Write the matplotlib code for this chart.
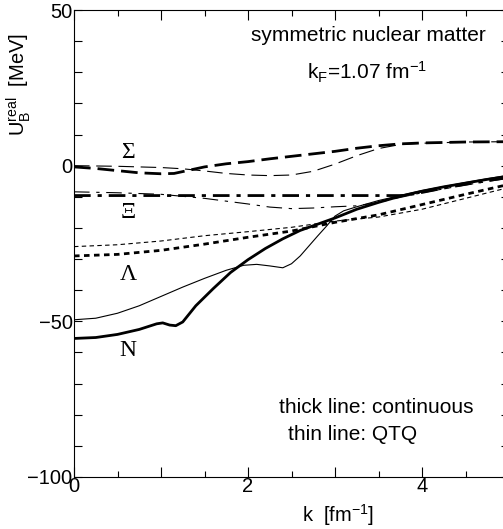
import matplotlib
matplotlib.use('Agg')
from matplotlib import pyplot as plt
from matplotlib.ticker import FixedLocator, MultipleLocator, FuncFormatter

plt.rcParams['font.family'] = ['Liberation Sans', 'DejaVu Sans']
plt.rcParams['mathtext.fontset'] = 'custom'
plt.rcParams['mathtext.rm'] = 'Liberation Sans'
plt.rcParams['mathtext.it'] = 'Liberation Sans:italic'

# N (nucleon), solid
k_n_cont = [0, 0.25, 0.5, 0.75, 0.95, 1.02, 1.1, 1.17, 1.25, 1.4, 1.6, 1.8, 2.0, 2.2,
            2.4, 2.6, 2.8, 3.0, 3.25, 3.5, 3.75, 4.0, 4.25, 4.5, 4.75, 5.0]
u_n_cont = [-55.5, -55.2, -54.2, -52.6, -50.8, -50.5, -51.2, -51.4, -50.2, -45, -39.5, -34.3,
            -30.2, -26.6, -23.5, -20.8, -18.8, -16.8, -14.0, -11.8, -9.8, -8.2, -6.8, -5.6, -4.4, -3.4]
k_n_qtq = [0, 0.25, 0.5, 0.75, 1.0, 1.25, 1.5, 1.75, 1.95, 2.1, 2.25, 2.4, 2.5, 2.6, 2.7,
           2.8, 2.9, 3.0, 3.1, 3.25, 3.5, 3.75, 4.0, 4.25, 4.5, 4.75, 5.0]
u_n_qtq = [-49.5, -49, -47.4, -45, -42, -39, -36.2, -33.6, -32, -31.7, -32.2, -32.8, -31.5,
           -29, -25.8, -22.6, -19.5, -16.2, -14.5, -13.2, -11.2, -9.6, -8.0, -6.7, -5.4, -4.2, -3.0]

# Lambda, dotted
k_l = [0, 0.5, 1.0, 1.5, 2.0, 2.5, 3.0, 3.5, 4.0, 4.5, 5.0]
u_l_cont = [-29, -28.5, -27.2, -25.2, -23, -21, -18.2, -15.8, -12.5, -9.2, -6.0]
u_l_qtq = [-26, -25.4, -24.2, -22.5, -21.2, -19.8, -17.8, -16.5, -14.0, -10.5, -7.0]

# Xi, dash-dot
k_x_cont = [0, 1, 2, 3, 3.8, 4.0, 4.25, 4.5, 4.75, 5.0]
u_x_cont = [-9.6, -9.6, -9.6, -9.6, -9.6, -8.6, -7.2, -6.0, -4.8, -3.8]
k_x_qtq = [0, 0.5, 1.0, 1.5, 2.0, 2.25, 2.5, 2.75, 3.0, 3.25, 3.5, 3.75, 4.0, 4.5, 5.0]
u_x_qtq = [-8.4, -8.7, -9.2, -10.5, -12.3, -13.3, -13.8, -13.6, -13.2, -12.9, -11.8, -10.2,
           -8.7, -6.2, -4.0]

# Sigma, dashed
k_s_cont = [0, 0.25, 0.5, 0.75, 1.0, 1.15, 1.3, 1.5, 1.75, 2.0, 2.25, 2.5, 2.75, 3.0,
            3.25, 3.5, 3.75, 4.0, 4.5, 5.0]
u_s_cont = [-0.4, -0.9, -1.6, -2.3, -2.6, -2.5, -1.6, -0.4, 0.6, 1.3, 2.2, 3.0, 3.8, 4.6,
            5.6, 6.4, 7.0, 7.3, 7.6, 7.7]
k_s_qtq = [0, 0.5, 1.0, 1.25, 1.5, 1.75, 2.0, 2.25, 2.5, 2.75, 3.0, 3.25, 3.5, 3.75, 4.0, 4.5, 5.0]
u_s_qtq = [0, -0.2, -0.6, -1.0, -1.7, -2.5, -3.0, -3.2, -3.0, -1.8, 0.5, 3.2, 5.5, 6.8, 7.2, 7.6, 7.7]

fig = plt.figure(figsize=(5.03, 5.29), dpi=100)
ax = fig.add_axes([74 / 503, 52 / 529, 435 / 503, 467 / 529])

thick = 2.0
thin = 0.8
ax.plot(k_n_cont, u_n_cont, color='black', lw=thick)
ax.plot(k_n_qtq, u_n_qtq, color='black', lw=thin)
ax.plot(k_l, u_l_cont, color='black', lw=thick, dashes=(2.0, 1.6))
ax.plot(k_l, u_l_qtq, color='black', lw=thin, dashes=(4.0, 3.0))
ax.plot(k_x_cont, u_x_cont, color='black', lw=thick, dashes=(6, 2.5, 1.5, 2.5))
ax.plot(k_x_qtq, u_x_qtq, color='black', lw=thin, dashes=(14, 6, 3, 6))
ax.plot(k_s_cont, u_s_cont, color='black', lw=thick, dashes=(6, 2.5))
ax.plot(k_s_qtq, u_s_qtq, color='black', lw=thin, dashes=(14, 6))

ax.set_xlim(0, 5)
ax.set_ylim(-100, 50)

ax.xaxis.set_major_locator(FixedLocator([0, 1, 2, 3, 4, 5]))
ax.xaxis.set_major_formatter(FuncFormatter(lambda v, p: '%d' % v if int(round(v)) % 2 == 0 else ''))
ax.xaxis.set_minor_locator(MultipleLocator(0.5))
ax.yaxis.set_major_locator(FixedLocator([-100, -50, 0, 50]))
ax.yaxis.set_minor_locator(MultipleLocator(10))
ax.tick_params(which='both', direction='in', top=True, right=True, labelsize=14.5, width=0.8)
ax.tick_params(axis='x', which='major', length=7, pad=0)
ax.tick_params(axis='x', which='minor', length=4)
ax.tick_params(axis='y', which='both', length=5.5, pad=1)
for s in ax.spines.values():
    s.set_linewidth(0.8)

ax.set_xlabel(r'k  [fm$^{-1}$]', fontsize=14.5)
ax.xaxis.set_label_coords(0.607, -0.054)
ax.set_ylabel(r'$\mathrm{U}_\mathrm{B}^\mathrm{real}$  [MeV]', fontsize=14.5)
ax.yaxis.set_label_coords(-0.095, 0.84)

ax.text(0.676, 0.946, 'symmetric nuclear matter', transform=ax.transAxes, fontsize=15, ha='center', va='center')
ax.text(0.673, 0.867, r'k$_\mathrm{F}$=1.07 fm$^{-1}$', transform=ax.transAxes, fontsize=15, ha='center', va='center')
ax.text(0.471, 0.148, 'thick line: continuous', transform=ax.transAxes, fontsize=15, ha='left', va='center')
ax.text(0.492, 0.09, 'thin line: QTQ', transform=ax.transAxes, fontsize=15, ha='left', va='center')

greek = dict(transform=ax.transAxes, fontsize=17, ha='center', va='center', family=['Liberation Serif', 'DejaVu Serif'])
ax.text(0.124, 0.695, 'Σ', **greek)
ax.text(0.124, 0.567, 'Ξ', **greek)
ax.text(0.124, 0.433, 'Λ', **greek)
ax.text(0.124, 0.27, 'N', **greek)

fig.savefig('out.png', dpi=100)
